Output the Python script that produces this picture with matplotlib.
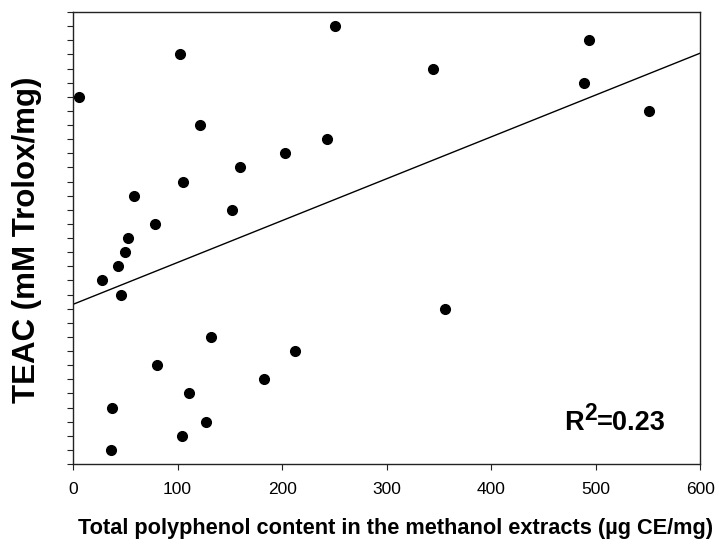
import numpy as np
import matplotlib
matplotlib.use("Agg")
import matplotlib.pyplot as plt
from matplotlib.ticker import MultipleLocator, NullFormatter

# Total polyphenol content (ug CE/mg) vs TEAC (mM Trolox/mg)
polyphenol = [5.3, 27.9, 35.9, 37.5, 42.6, 46.1, 50.2, 52.4, 58.2, 78.7,
              80.2, 102.2, 104.1, 105.7, 110.5, 121.3, 127.5, 131.6, 151.7, 159.3,
              182.6, 202.7, 212.3, 242.9, 250.2, 344.0, 355.8, 488.8, 493.6, 551.0]
teac = [26, 13, 1, 4, 14, 12, 15, 16, 19, 17,
        7, 29, 2, 20, 5, 24, 3, 9, 18, 21,
        6, 22, 8, 23, 31, 28, 11, 27, 30, 25]
r2_value = "0.23"

plt.rcParams["font.family"] = ["Liberation Sans", "DejaVu Sans"]

fig = plt.figure(figsize=(7.19, 5.46), dpi=100)
ax = fig.add_axes([0.1015, 0.150, 0.8725, 0.828])

ax.plot(polyphenol, teac, "o", color="black", markersize=7.0, zorder=3)

# linear regression line
slope, intercept = np.polyfit(polyphenol, teac, 1)
xs = np.array([0, 600])
ax.plot(xs, intercept + slope * xs, color="black", linewidth=1.0)

ax.set_xlim(0, 600)
ax.set_ylim(0, 32)
ax.xaxis.set_major_locator(MultipleLocator(100))
ax.yaxis.set_major_locator(MultipleLocator(1))
ax.yaxis.set_major_formatter(NullFormatter())
ax.tick_params(axis="both", direction="out", length=4.5, width=0.8, color="#222222")
ax.tick_params(axis="x", labelsize=12.5, pad=8.3)
for s in ax.spines.values():
    s.set_linewidth(1.0)
    s.set_color("#222222")

ax.set_xlabel("Total polyphenol content in the methanol extracts (\u00b5g CE/mg)",
              fontsize=15.7, fontweight="bold")
ax.xaxis.set_label_coords(0.515, -0.1186)
ax.set_ylabel("TEAC (mM Trolox/mg)", fontsize=22.5, fontweight="bold")
ax.yaxis.set_label_coords(-0.049, 0.4956)

# R^2 annotation: "R", raised "2", then "=0.23"
ax.text(0.783, 0.0752, "R", transform=ax.transAxes, fontsize=19.5,
        fontweight="bold", ha="left", va="baseline")
ax.text(0.815, 0.0965, "2", transform=ax.transAxes, fontsize=16.5,
        fontweight="bold", ha="left", va="baseline")
ax.text(0.8357, 0.0752, "=" + r2_value, transform=ax.transAxes, fontsize=19.5,
        fontweight="bold", ha="left", va="baseline")

fig.savefig("out.png", dpi=100)
